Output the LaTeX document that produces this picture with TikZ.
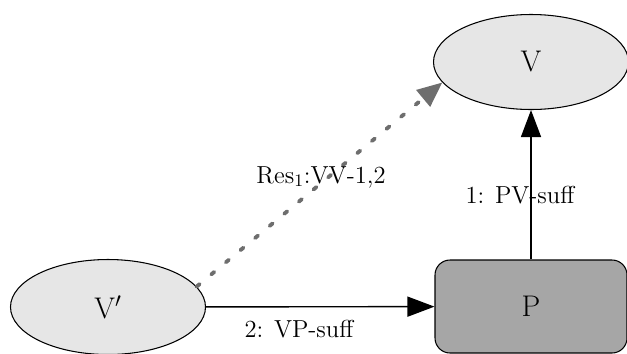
\documentclass[tikz,border=0pt]{standalone}
\usepackage{amsmath}
\usetikzlibrary{arrows.meta,shapes.geometric}

\definecolor{lightfill}{HTML}{E6E6E6}
\definecolor{darkfill}{HTML}{A6A6A6}
\definecolor{dotgray}{HTML}{6E6E6E}

\tikzset{
  vnode/.style={ellipse,draw,fill=lightfill,line width=0.6pt,minimum width=3.9cm,minimum height=1.9cm,font=\fontsize{17}{19}\selectfont},
  pnode/.style={rectangle,rounded corners=0.3cm,draw,fill=darkfill,line width=0.6pt,minimum width=3.84cm,minimum height=1.86cm,font=\fontsize{17}{19}\selectfont},
  edgelab/.style={anchor=base,font=\fontsize{14}{16}\selectfont},
  solidarrow/.style={line width=0.8pt,-{Triangle[length=0.54cm,width=0.4cm]}},
  dotarrow/.style={dotgray,line width=2.2pt,line cap=round,dash pattern=on 2.2pt off 8.6pt,
    -{Triangle[length=0.5cm,width=0.42cm,line cap=butt]}}
}

\begin{document}
\begin{tikzpicture}
\useasboundingbox (0,0) rectangle (12.54,7.06);
\node[vnode] (V) at (10.62,5.82) {V};
\node[vnode] (Vp) at (2.16,0.92) {V$'$};
\node[pnode] (P) at (10.62,0.93) {P};
\draw[solidarrow] (Vp) -- (P);
\draw[solidarrow] (P) -- (V);
\draw[dotarrow] (Vp.13) -- (V.193);
\node[edgelab] (lres) at (6.42,3.4) {Res$_1$:VV-1,2};
\node[edgelab] (lpv) at (10.4,3.0) {1: PV-suff};
\node[edgelab] (lvp) at (5.98,0.32) {2: VP-suff};
\end{tikzpicture}
\end{document}
